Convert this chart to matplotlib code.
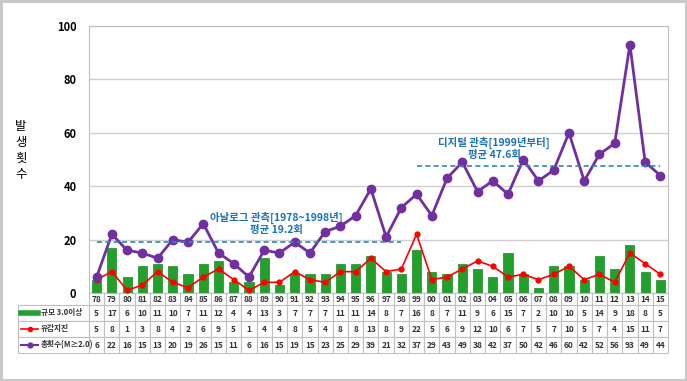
import numpy as np
import matplotlib.pyplot as plt
from matplotlib.lines import Line2D

plt.rcParams['font.family'] = ['Noto Sans CJK KR', 'DejaVu Sans']

years = ['78', '79', '80', '81', '82', '83', '84', '85', '86', '87', '88', '89', '90',
         '91', '92', '93', '94', '95', '96', '97', '98', '99', '00', '01', '02', '03',
         '04', '05', '06', '07', '08', '09', '10', '11', '12', '13', '14', '15']
big = [5, 17, 6, 10, 11, 10, 7, 11, 12, 4, 4, 13, 3, 7, 7, 7, 11, 11, 14, 8, 7,
       16, 8, 7, 11, 9, 6, 15, 7, 2, 10, 10, 5, 14, 9, 18, 8, 5]
felt = [5, 8, 1, 3, 8, 4, 2, 6, 9, 5, 1, 4, 4, 8, 5, 4, 8, 8, 13, 8, 9,
        22, 5, 6, 9, 12, 10, 6, 7, 5, 7, 10, 5, 7, 4, 15, 11, 7]
total = [6, 22, 16, 15, 13, 20, 19, 26, 15, 11, 6, 16, 15, 19, 15, 23, 25, 29, 39, 21, 32,
         37, 29, 43, 49, 38, 42, 37, 50, 42, 46, 60, 42, 52, 56, 93, 49, 44]
row_names = ['규모 3.0이상', '유감지진', '총횟수(M≥2.0)']
split = 21  # 1999년부터 디지털 관측

green = '#22a02b'
red = '#ff0000'
purple = '#7030a0'
blue = '#1a72bb'

fig = plt.figure(figsize=(6.87, 3.81), dpi=100)
fig.patch.set_edgecolor('#c8c8c8')
fig.patch.set_linewidth(2.5)
ax = fig.add_axes([89 / 687, 1 - 293 / 381, 579 / 687, 267 / 381])

x = np.arange(len(years))
ax.bar(x, big, 0.6, color=green, edgecolor='#1b8a24', linewidth=0.5, zorder=2)
ax.plot(x, felt, color=red, lw=1.2, marker='o', ms=3.5, zorder=3)
ax.plot(x, total, color=purple, lw=2, marker='o', ms=6, zorder=4)

m1 = np.mean(total[:split])
m2 = np.mean(total[split:])
ax.hlines(m1, 0, split - 1, colors='#2e86c1', linestyles=(0, (3, 2)), lw=1.2, zorder=5)
ax.hlines(m2, split, len(years) - 1, colors='#2e86c1', linestyles=(0, (3, 2)), lw=1.2, zorder=5)
ax.text(11.8, 26.1, '아날로그 관측[1978~1998년]\n평균 %.1f회' % m1, color=blue,
        fontsize=7.5, ha='center', va='center', fontweight='bold', linespacing=1.05)
ax.text(26.1, 54.2, '디지털 관측[1999년부터]\n평균 %.1f회' % m2, color=blue,
        fontsize=7.5, ha='center', va='center', fontweight='bold', linespacing=1.1)

ax.set_xlim(-0.5, len(years) - 0.5)
ax.set_ylim(0, 100)
ax.set_yticks([0, 20, 40, 60, 80, 100])
ax.set_xticks([])
ax.tick_params(axis='y', length=0, pad=9, labelsize=8)
for lab in ax.get_yticklabels():
    lab.set_fontweight('bold')
ax.grid(axis='y', color='#d0d0d0', lw=1, zorder=0)
for s in ax.spines.values():
    s.set_color('#c0c0c0')
ax.spines['bottom'].set_visible(False)

ax.text(-0.118, 0.535, '발\n생\n횟\n수', transform=ax.transAxes, fontsize=9,
        ha='center', va='center', linespacing=1.3)

# data table under the plot
cells = [[''] + [str(v) for v in big],
         [''] + [str(v) for v in felt],
         [''] + [str(v) for v in total]]
widths = [71] + [579 / len(years)] * len(years)
tab = ax.table(cellText=cells, colLabels=[''] + years, colWidths=widths,
               cellLoc='center', bbox=[-71 / 579, -60 / 267, 650 / 579, 60 / 267])
tab.auto_set_font_size(False)
tab.set_fontsize(6)
for (r, c), cell in tab.get_celld().items():
    cell.set_edgecolor('#c0c0c0')
    cell.set_linewidth(0.8)
    cell.set_height(12 if r == 0 else 16)
    cell.get_text().set_fontweight('bold')
    cell.get_text().set_color('#333333')
    if r == 0 and c == 0:
        cell.set_visible(False)

rows_y = [-20 / 267, -36 / 267, -52 / 267]
sx = [-0.1174, -0.1027, -0.0881]
handles = [
    Line2D(sx, [rows_y[0]] * 3, color=green, lw=4),
    Line2D(sx, [rows_y[1]] * 3, color=red, lw=1.2, marker='o', ms=3, markevery=[1]),
    Line2D(sx, [rows_y[2]] * 3, color=purple, lw=1.5, marker='o', ms=3.5, markevery=[1]),
]
for h, name, yy in zip(handles, row_names, rows_y):
    h.set_transform(ax.transAxes)
    h.set_clip_on(False)
    ax.add_line(h)
    ax.text(-0.0835, yy, name, transform=ax.transAxes, fontsize=5.5,
            fontweight='bold', ha='left', va='center', color='#333333')

fig.savefig('out.png', dpi=100, edgecolor=fig.get_edgecolor())
